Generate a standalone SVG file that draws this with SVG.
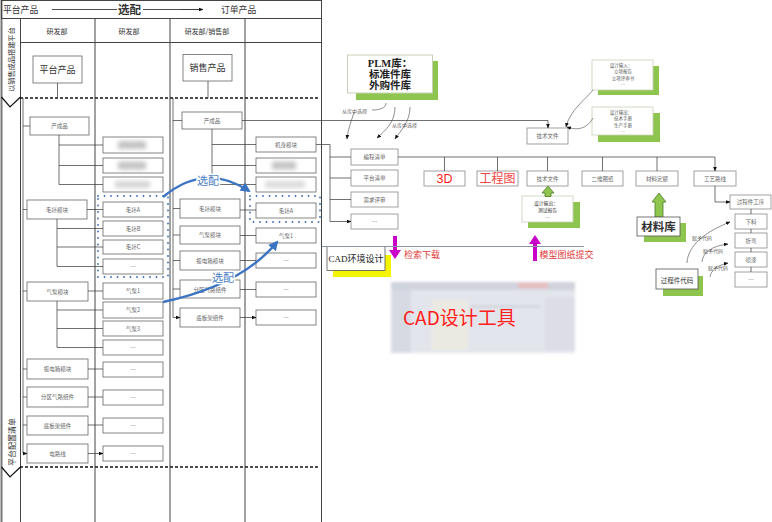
<svg xmlns="http://www.w3.org/2000/svg" width="772" height="522" viewBox="0 0 772 522">
<defs>
<style>
.bx{fill:#fff;stroke:#666;stroke-width:0.8}
.bx2{fill:#fff;stroke:#8a8a8a;stroke-width:0.8}
.t{font-family:"Noto Sans CJK SC",sans-serif;font-size:5.5px;fill:#666;text-anchor:middle;dominant-baseline:central}
.ts{font-family:"Noto Sans CJK SC",sans-serif;font-size:4.5px;fill:#555;text-anchor:middle;dominant-baseline:central}
.td{font-family:"Noto Sans CJK SC",sans-serif;font-size:4.8px;fill:#333;text-anchor:middle;dominant-baseline:central}
.h{font-family:"Noto Sans CJK SC",sans-serif;fill:#333}
.ln{fill:none;stroke:#333;stroke-width:0.7}
.la{fill:none;stroke:#333;stroke-width:0.7;marker-end:url(#a)}
.grid{fill:none;stroke:#444;stroke-width:1}
.dash{fill:none;stroke:#111;stroke-width:1.5;stroke-dasharray:3 2}
.dot{fill:none;stroke:#3a6db3;stroke-width:1.8;stroke-linecap:round;stroke-dasharray:0 6.5}
.blue{fill:none;stroke:#3b74c2;stroke-width:2.4;marker-end:url(#ab)}
.bl{font-family:"Noto Sans CJK SC",sans-serif;font-size:11px;fill:#4a7cc4;stroke:#fff;stroke-width:3;paint-order:stroke;text-anchor:middle}
.sh{fill:#8dc54e}
.cv{fill:none;stroke:#444;stroke-width:0.6;marker-end:url(#a)}
.lb{font-family:"Noto Sans CJK SC",sans-serif;font-size:5px;fill:#666}
.red{font-family:"Noto Sans CJK SC",sans-serif;font-size:9px;fill:#e03a3a}
.mg{fill:#c800c8}
.gar{fill:#8dc54e;stroke:#4d7a2a;stroke-width:0.8}
.blur{fill:#c4c4c4;filter:url(#bl)}
</style>
<marker id="a" viewBox="0 0 6 6" refX="5.5" refY="3" markerUnits="userSpaceOnUse" markerWidth="4.5" markerHeight="4.5" orient="auto"><path d="M0,0.5L6,3L0,5.5z" fill="#111"/></marker>
<marker id="ab" viewBox="0 0 10 10" refX="8" refY="5" markerUnits="userSpaceOnUse" markerWidth="10" markerHeight="10" orient="auto"><path d="M0,0L10,5L0,10z" fill="#3b74c2"/></marker>
<filter id="bl" x="-30%" y="-80%" width="160%" height="260%"><feGaussianBlur stdDeviation="2"/></filter>
<filter id="bl2" x="-5%" y="-10%" width="110%" height="120%"><feGaussianBlur stdDeviation="1.6"/></filter>
</defs>
<rect width="772" height="522" fill="#fff"/>

<g id="frame">
<line x1="1.5" y1="0" x2="1.5" y2="522" stroke="#777" stroke-width="2"/>
<rect x="1.5" y="0.5" width="320" height="18" fill="none" stroke="#444"/>
<line x1="321.5" y1="0" x2="321.5" y2="522" stroke="#444"/>
<path class="grid" d="M20.5,18V522M95,42V522M170,42V522M245,42V522M95,18V42M170,18V42M245,18V42M20,42.5H321"/>
<path d="M1.5,97L10,107L20.5,97M1.5,467L10,477L20.5,467" fill="none" stroke="#111" stroke-width="1.2"/>
<line class="dash" x1="20" y1="98" x2="320" y2="98"/>
<line class="dash" x1="20" y1="467" x2="320" y2="467"/>
<text class="h" font-size="7.2" transform="translate(13.5,92) rotate(-90)">以销售成品搭建平台</text>
<text class="h" font-size="8" transform="translate(14.5,466) rotate(-90)">平台配置清单</text>
</g>

<g id="header">
<text class="h" x="3" y="12.5" font-size="8.8">平台产品</text>
<text class="h" x="118" y="14" font-size="11.5" font-weight="bold" fill="#111">选配</text>
<text class="h" x="221" y="12.5" font-size="8.8">订单产品</text>
<text class="h" x="57" y="34" font-size="7" text-anchor="middle" fill="#555">研发部</text>
<text class="h" x="129" y="34" font-size="7" text-anchor="middle" fill="#555">研发部</text>
<text class="h" x="207" y="34" font-size="7" text-anchor="middle" fill="#555">研发部/销售部</text>
</g>

<g id="n-pingtai"><rect class="bx" x="33" y="56" width="49" height="27"/><text class="h" x="57.5" y="72.5" font-size="9" text-anchor="middle" fill="#555">平台产品</text></g>
<g id="n-xiaoshou"><rect class="bx" x="183" y="54.5" width="49" height="26.5"/><text class="h" x="207.5" y="71" font-size="9" text-anchor="middle" fill="#555">销售产品</text></g>

<g id="col1">
<g id="c1-1"><rect class="bx" x="30" y="117" width="59" height="18"/><text class="t" x="59.5" y="126">产成品</text></g>
<g id="c1-2"><rect class="bx" x="27" y="200" width="60" height="19"/><text class="t" x="57" y="209.5">毛坯模块</text></g>
<g id="c1-3"><rect class="bx" x="27" y="282" width="61" height="19"/><text class="t" x="57.5" y="291.5">气泵模块</text></g>
<g id="c1-4"><rect class="bx" x="27" y="359" width="61" height="20"/><text class="t" x="57.5" y="369">振电箱模块</text></g>
<g id="c1-5"><rect class="bx" x="27" y="387" width="61" height="20"/><text class="t" x="57.5" y="397">分区气路组件</text></g>
<g id="c1-6"><rect class="bx" x="27" y="416" width="61" height="19"/><text class="t" x="57.5" y="425.5">底板架组件</text></g>
<g id="c1-7"><rect class="bx" x="27" y="444" width="61" height="19"/><text class="t" x="57.5" y="453.5">电路线</text></g>
</g>

<g id="col2">
<g id="c2-1"><rect class="bx" x="103" y="137" width="60" height="16"/><rect class="blur" x="118" y="141" width="28" height="8"/></g>
<g id="c2-2"><rect class="bx" x="103" y="158" width="60" height="15"/><rect class="blur" x="118" y="161.5" width="28" height="8"/></g>
<g id="c2-3"><rect class="bx" x="103" y="177" width="60" height="15"/><rect class="blur" x="115" y="181" width="35" height="7" opacity="0.7"/></g>
<g id="c2-4"><rect class="bx" x="103" y="202" width="60" height="15"/><text class="t" x="133" y="209.5">毛坯A</text></g>
<g id="c2-5"><rect class="bx" x="103" y="221" width="60" height="15"/><text class="t" x="133" y="228.5">毛坯B</text></g>
<g id="c2-6"><rect class="bx" x="103" y="240" width="60" height="14"/><text class="t" x="133" y="247">毛坯C</text></g>
<g id="c2-7"><rect class="bx" x="103" y="259" width="60" height="15"/><text class="t" x="133" y="266.5">…</text></g>
<g id="c2-8"><rect class="bx" x="103" y="283" width="60" height="16"/><text class="t" x="133" y="291">气泵1</text></g>
<g id="c2-9"><rect class="bx" x="103" y="302" width="60" height="16"/><text class="t" x="133" y="310">气泵2</text></g>
<g id="c2-10"><rect class="bx" x="103" y="321" width="60" height="15"/><text class="t" x="133" y="328.5">气泵3</text></g>
<g id="c2-11"><rect class="bx" x="103" y="340" width="60" height="15"/><text class="t" x="133" y="347.5">…</text></g>
<g id="c2-12"><rect class="bx" x="103" y="362" width="60" height="15"/><text class="t" x="133" y="369.5">…</text></g>
<g id="c2-13"><rect class="bx" x="103" y="390" width="60" height="15"/><text class="t" x="133" y="397.5">…</text></g>
<g id="c2-14"><rect class="bx" x="103" y="418" width="60" height="15"/><text class="t" x="133" y="425.5">…</text></g>
<g id="c2-15"><rect class="bx" x="103" y="446" width="60" height="15"/><text class="t" x="133" y="453.5">…</text></g>
<rect id="c2-group" class="dot" x="98" y="196" width="70" height="81"/>
</g>

<g id="col3">
<g id="c3-1"><rect class="bx" x="182" y="112" width="60" height="17"/><text class="t" x="212" y="120.5">产成品</text></g>
<g id="c3-2"><rect class="bx" x="180" y="199" width="60" height="19"/><text class="t" x="210" y="208.5">毛坯模块</text></g>
<g id="c3-3"><rect class="bx" x="180" y="226" width="60" height="18"/><text class="t" x="210" y="235">气泵模块</text></g>
<g id="c3-4"><rect class="bx" x="180" y="251" width="60" height="19"/><text class="t" x="210" y="260.5">振电箱模块</text></g>
<g id="c3-5"><rect class="bx" x="180" y="280" width="60" height="18"/><text class="t" x="210" y="290">分区气路组件</text></g>
<g id="c3-6"><rect class="bx" x="180" y="308" width="60" height="19"/><text class="t" x="210" y="317.5">底板架组件</text></g>
</g>

<g id="col4">
<g id="c4-1"><rect class="bx" x="256" y="137" width="60" height="15"/><text class="t" x="286" y="144.5">机身模块</text></g>
<g id="c4-2"><rect class="bx" x="256" y="158" width="60" height="15"/><rect class="blur" x="272" y="161.5" width="24" height="8"/></g>
<g id="c4-3"><rect class="bx" x="256" y="177" width="60" height="15"/><rect class="blur" x="265" y="181" width="40" height="7" opacity="0.6"/></g>
<g id="c4-4"><rect class="bx" x="256" y="203" width="60" height="15"/><text class="t" x="286" y="210.5">毛坯A</text></g>
<g id="c4-5"><rect class="bx" x="256" y="228" width="60" height="15"/><text class="t" x="286" y="235.5">气泵1</text></g>
<g id="c4-6"><rect class="bx" x="256" y="253" width="60" height="15"/><text class="t" x="286" y="260.5">…</text></g>
<g id="c4-7"><rect class="bx" x="256" y="282" width="60" height="15"/><text class="t" x="286" y="289.5">…</text></g>
<g id="c4-8"><rect class="bx" x="256" y="310" width="60" height="15"/><text class="t" x="286" y="317.5">…</text></g>
<rect id="c4-group" class="dot" x="250" y="196" width="70" height="26"/>
</g>

<g id="plm">
<rect class="sh" x="356" y="61" width="82" height="39"/>
<rect x="347.5" y="55" width="85" height="38" fill="#fff" stroke="#c9cfb6" stroke-width="1"/>
<text font-family="'Liberation Serif','Noto Sans CJK SC',serif" font-size="10.5" font-weight="bold" text-anchor="middle" fill="#222"><tspan x="390" y="66.5">PLM库：</tspan><tspan x="390" y="77.5">标准件库</tspan><tspan x="390" y="89">外购件库</tspan></text>
</g>
<g id="lbl-choose">
<text class="lb" x="342" y="112.5">从库中选择</text>
<text class="lb" x="392" y="126.5">从库中选择</text>
</g>

<g id="r-list">
<g id="r1"><rect class="bx2" x="351" y="149" width="47" height="16"/><text class="t" x="374.5" y="157">编程清单</text></g>
<g id="r2"><rect class="bx2" x="351" y="170" width="47" height="16"/><text class="t" x="374.5" y="178">平台清单</text></g>
<g id="r3"><rect class="bx2" x="351" y="192" width="47" height="15"/><text class="t" x="374.5" y="199.5">需求评审</text></g>
<g id="r4"><rect class="bx2" x="351" y="214" width="47" height="15"/><text class="t" x="374.5" y="221.5">…</text></g>
</g>

<g id="tech-top"><rect class="bx2" x="527" y="128" width="41" height="16"/><text class="t" x="547.5" y="136">技术文件</text></g>

<g id="design-in">
<rect class="sh" x="598" y="66" width="61" height="29"/>
<rect x="592" y="60" width="61" height="30" fill="#fff" stroke="#c9cfb6" stroke-width="0.8"/>
<text class="ts" x="621" y="64.5">设计输入：</text><text class="ts" x="623" y="71">立项报告</text><text class="ts" x="623" y="77.5">立项评审书</text><text class="ts" x="623" y="84">…</text>
</g>
<g id="design-out">
<rect class="sh" x="598" y="113" width="62" height="29"/>
<rect x="592" y="107" width="61" height="28" fill="#fff" stroke="#c9cfb6" stroke-width="0.8"/>
<text class="ts" x="621" y="111.5">设计输出：</text><text class="ts" x="623" y="118">技术手册</text><text class="ts" x="623" y="124.5">生产手册</text><text class="ts" x="623" y="131">…</text>
</g>

<g id="row">
<g id="n-3d"><rect class="bx2" x="424" y="171" width="41" height="15"/><text x="444.5" y="183" font-family="'Liberation Sans',sans-serif" font-size="12.5" text-anchor="middle" fill="#ff1a1a">3D</text></g>
<g id="n-gct"><rect class="bx2" x="477" y="171" width="41" height="15" fill="#fdf0f0"/><text x="497.5" y="183" font-family="'Noto Sans CJK SC',sans-serif" font-size="12" text-anchor="middle" fill="#f04545">工程图</text></g>
<g id="n-tech"><rect class="bx2" x="527" y="171" width="41" height="15"/><text class="t" x="547.5" y="178.5">技术文件</text></g>
<g id="n-2d"><rect class="bx2" x="582" y="171" width="41" height="15"/><text class="t" x="602.5" y="178.5">二维图纸</text></g>
<g id="n-mat"><rect class="bx2" x="636" y="171" width="42" height="15"/><text class="t" x="657" y="178.5">材料定额</text></g>
<g id="n-route"><rect class="bx2" x="694" y="171" width="42" height="15"/><text class="t" x="715" y="178.5">工艺路线</text></g>
</g>

<g id="test-out">
<rect class="sh" x="528" y="202" width="52" height="26"/>
<rect x="522" y="196" width="51" height="26" fill="#fff" stroke="#c9cfb6" stroke-width="0.8"/>
<text class="td" x="546" y="202">设计输出：</text><text class="td" x="547.5" y="209">测试报告</text><text class="td" x="547.5" y="216">…</text>
<path class="gar" d="M545,196.5V193H542L548,186L554,193H551V196.5Z"/>
</g>

<g id="matlib">
<path class="gar" d="M655,217V202H652L659,193L666,202H663V217Z"/>
<rect class="sh" x="644" y="223" width="42" height="19"/>
<rect x="637" y="217" width="43" height="19" fill="#fff" stroke="#555" stroke-width="0.8"/>
<text x="658.5" y="231" font-family="'Noto Sans CJK SC',sans-serif" font-size="11.5" font-weight="bold" text-anchor="middle" fill="#333">材料库</text>
</g>

<g id="proc">
<g id="p0"><rect class="bx2" x="730" y="195" width="41" height="14"/><text class="t" x="750.5" y="202">过程件工序</text></g>
<g id="p1"><rect class="bx2" x="735" y="214" width="32" height="15"/><text class="t" x="751" y="221.5">下料</text></g>
<g id="p2"><rect class="bx2" x="735" y="233" width="32" height="15"/><text class="t" x="751" y="240.5">折弯</text></g>
<g id="p3"><rect class="bx2" x="735" y="252" width="32" height="15"/><text class="t" x="751" y="259.5">喷漆</text></g>
<g id="p4"><rect class="bx2" x="735" y="272" width="32" height="15"/><text class="t" x="751" y="279.5">…</text></g>
</g>
<g id="proc-code">
<rect class="sh" x="663" y="276" width="40" height="20"/>
<rect x="656" y="269" width="42" height="20" fill="#fff" stroke="#555" stroke-width="0.8"/>
<text class="td" x="677" y="279.5" style="font-size:6.5px">过程件代码</text>
<text class="lb" x="692" y="240">赋予代码</text>
<text class="lb" x="703" y="253">赋予代码</text>
<text class="lb" x="708" y="270">赋予代码</text>
</g>

<g id="cad-env">
<rect x="333" y="255" width="58" height="22" fill="#f4f400"/>
<rect x="327" y="246.5" width="58" height="24" fill="#fff" stroke="#555" stroke-width="0.8"/>
<text x="356" y="262" font-family="'Liberation Serif','Noto Sans CJK SC',serif" font-size="9" text-anchor="middle" fill="#222">CAD环境设计</text>
</g>

<g id="transfer">
<path class="mg" d="M393,236H397V250H401L395,259L389,250H393Z"/>
<text class="red" x="404" y="257.5">检索下载</text>
<path class="mg" d="M533,261V244H529L535,235L541,244H537V261Z"/>
<text class="red" x="539.5" y="257.5">模型图纸提交</text>
</g>

<g id="cad-tool">
<g filter="url(#bl2)">
<rect x="391" y="282" width="184" height="71" fill="#e3e5ec"/>
<rect x="391" y="282" width="184" height="8" fill="#d0d3dd"/>
<rect x="391" y="290" width="20" height="63" fill="#d7dae2"/>
<rect x="432" y="300" width="36" height="50" fill="#eaeae2"/>
<rect x="518" y="283" width="30" height="5" fill="#e9bcbc"/>
<rect x="545" y="298" width="30" height="52" fill="#dcdde7"/>
<rect x="470" y="305" width="70" height="3" fill="#d4d6de"/>
</g>
<text x="403" y="325" font-family="'Noto Sans CJK SC',sans-serif" font-size="19" fill="#ff2020">CAD设计工具</text>
</g>

<g id="connectors">
<path d="M52,9.5H117M143,9.5H203" fill="none" stroke="#222" stroke-width="0.8"/>
<path d="M180,9.5H203" class="la"/>
<path class="ln" d="M57.5,83V98M208,81V98"/>
<path class="ln" d="M23,98V453.5M173,98V317.5"/>
<path class="la" d="M23,126H30M23,209.5H27M23,291H27M23,369H27M23,397H27M23,425H27M23,453.5H27"/>
<path class="ln" d="M59,135V184.5M57,219V266.5M57,301V347.5"/>
<path class="la" d="M59,145H103M59,165.5H103M59,184.5H103M87,209.5H103M57,228.5H103M57,247H103M57,266.5H103M88,291H103M57,310H103M57,328.5H103M57,347.5H103M88,369H103M88,397H103M88,425H103M88,453.5H103"/>
<path class="la" d="M173,120.5H182M173,208.5H180M173,235H180M173,260.5H180M173,289H180M173,317.5H180"/>
<path class="ln" d="M212,129V184.5"/>
<path class="la" d="M212,144.5H256M212,165.5H256M212,184.5H256M240,210H256M240,235.5H256M240,260.5H256M240,289.5H256M240,317.5H256"/>
<path class="la" d="M242,120.5H548V128"/>
<path class="ln" d="M316,144.5H330V221.5"/>
<path class="la" d="M330,157H351M330,178H351M330,199.5H351M330,221.5H351"/>
<path class="ln" d="M398,157H715"/>
<path class="la" d="M444.5,157V171M497.5,157V171M547.5,157V171M602.5,157V171M657,157V171M715,157V171"/>
<path class="la" d="M715,186V202H730"/>
<path class="ln" d="M751,209V214M751,229V233M751,248V252M751,267V272"/>
<path class="cv" d="M593,90C585,100 570,110 566,127"/>
<path class="cv" d="M593,118C585,132 573,129 567,127"/>
<path class="cv" d="M354,112C352,120 348,128 347,139"/>
<path class="cv" d="M395,107C395,122 386,130 377,138"/>
<path class="cv" d="M410,107C410,122 401,130 395,139"/>
<path fill="none" stroke="#444" stroke-width="0.6" d="M372,110C380,110 386,108 386,103"/>
<path class="cv" d="M687,263C688,245 705,232 730,222"/>
<path class="cv" d="M702,262C703,252 712,246 728,244"/>
<path class="cv" d="M710,277C711,270 718,265 728,263"/>
<line x1="322" y1="246.5" x2="584" y2="246.5" stroke="#8a94a6" stroke-width="1"/>
<path class="blue" d="M163,197Q205,162 249,191"/>
<path class="blue" d="M163,302Q242,285 277,242"/>
<text class="bl" x="208" y="185">选配</text>
<text class="bl" x="223" y="281.5">选配</text>
</g>
</svg>
